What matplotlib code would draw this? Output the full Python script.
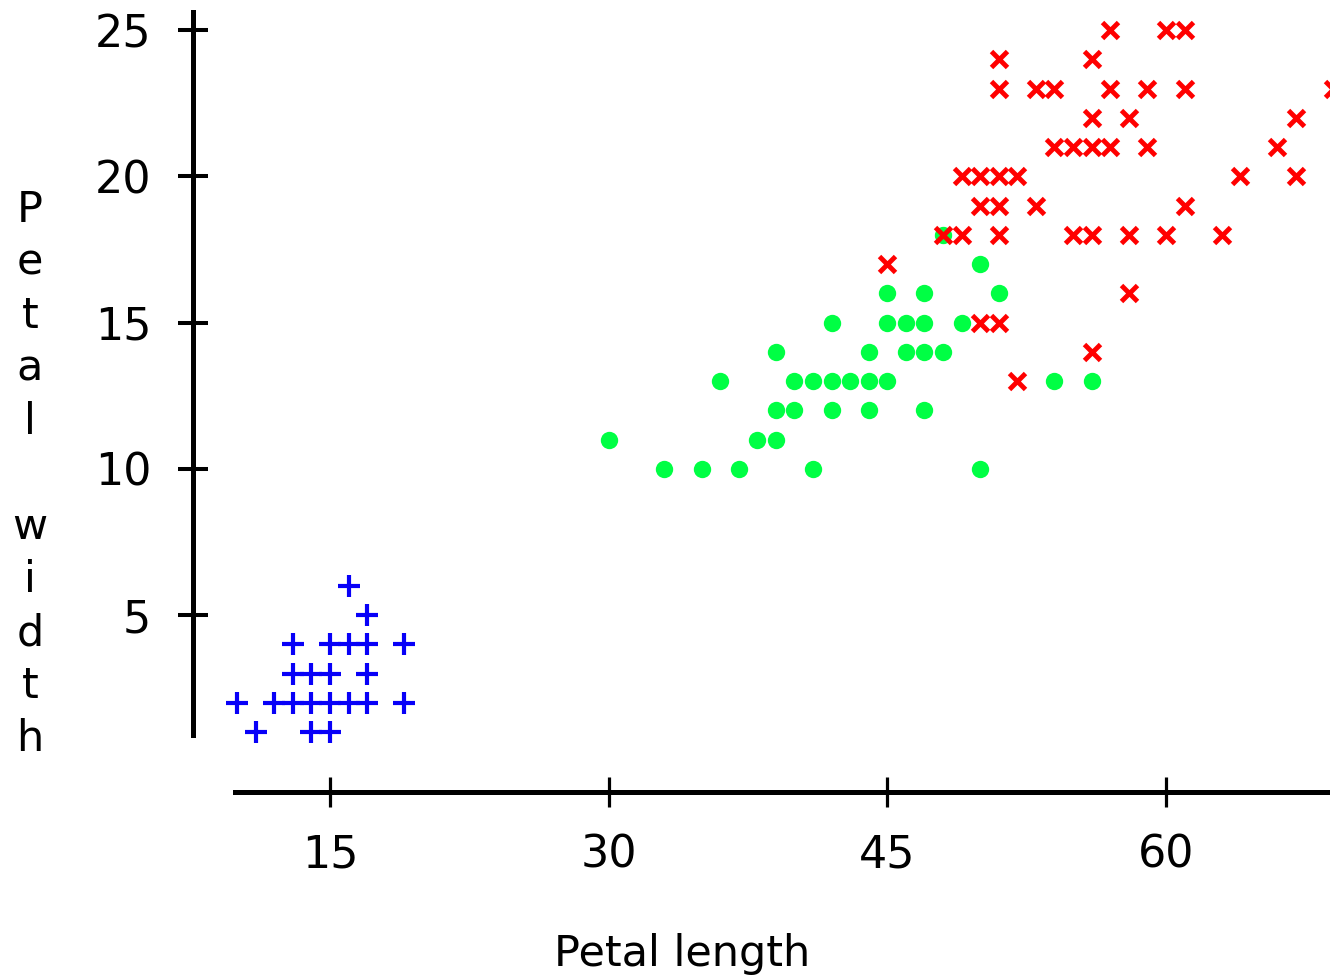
"""Iris petal length vs petal width (mm), three species, old-style bitmap plot."""

import matplotlib

matplotlib.use("Agg")
import matplotlib.pyplot as plt  # noqa: E402

BLUE, GREEN, RED = "#0800f8", "#00ff44", "#ff0000"

# setosa (blue +)
SET_LEN = [16, 17, 13, 15, 16, 17, 19, 13, 14, 15, 17, 10, 12, 13, 14, 15, 16, 17, 19,
           11, 14, 15]
SET_WID = [6, 5, 4, 4, 4, 4, 4, 3, 3, 3, 3, 2, 2, 2, 2, 2, 2, 2, 2,
           1, 1, 1]

# versicolor (green dots)
VER_LEN = [30, 33, 35, 36, 37, 38, 39, 39, 39, 40, 40, 41, 41, 42, 42, 42, 43, 44, 44,
           44, 45, 45, 45, 46, 46, 47, 47, 47, 47, 48, 48, 49, 50, 50, 51, 54, 56]
VER_WID = [11, 10, 10, 13, 10, 11, 11, 12, 14, 12, 13, 10, 13, 12, 13, 15, 13, 12, 13,
           14, 13, 15, 16, 14, 15, 12, 14, 15, 16, 14, 18, 15, 10, 17, 16, 13, 13]

# virginica (red x)
VIR_LEN = [45, 48, 49, 51, 55, 56, 58, 60, 63, 50, 51, 56, 52, 58,
           49, 50, 51, 52, 64, 67, 50, 51, 53, 61,
           54, 55, 56, 57, 59, 66, 56, 58, 67,
           51, 53, 54, 57, 59, 61, 69, 51, 56, 57, 60, 61]
VIR_WID = [17, 18, 18, 18, 18, 18, 18, 18, 18, 15, 15, 14, 13, 16,
           20, 20, 20, 20, 20, 20, 19, 19, 19, 19,
           21, 21, 21, 21, 21, 21, 22, 22, 22,
           23, 23, 23, 23, 23, 23, 23, 24, 24, 25, 25, 25]

X_TICKS = [15, 30, 45, 60]
Y_TICKS = [5, 10, 15, 20, 25]

fig = plt.figure(figsize=(13.3, 9.77), dpi=100)
ax = fig.add_axes([0, 0, 1, 1])
ax.set_xlim(-2.763, 68.83)
ax.set_ylim(-7.376, 26.026)

ax.plot(SET_LEN, SET_WID, ls="none", marker="+", ms=16, mew=3.0, color=BLUE,
        zorder=3, clip_on=False)
ax.plot(VER_LEN, VER_WID, ls="none", marker="o", ms=12.5, mew=0, color=GREEN,
        zorder=4, clip_on=False)
ax.plot(VIR_LEN, VIR_WID, ls="none", marker="x", ms=11, mew=3.5, color=RED,
        zorder=5, clip_on=False)

for s in ("top", "right"):
    ax.spines[s].set_visible(False)
ax.spines["left"].set_position(("data", 7.626))
ax.spines["left"].set_bounds(0.9, 25.6)
ax.spines["bottom"].set_position(("data", -1.05))
ax.spines["bottom"].set_bounds(9.89, 70)
for s in ("left", "bottom"):
    ax.spines[s].set_linewidth(3.6)

ax.set_xticks(X_TICKS)
ax.set_yticks(Y_TICKS)
ax.tick_params(axis="y", direction="inout", length=22, width=2.9, pad=19,
               labelsize=32)
ax.tick_params(axis="x", direction="inout", length=22, width=2.3, pad=19,
               labelsize=32)

fig.text(0.5128, 0.0113, "Petal length", ha="center", va="baseline", fontsize=31)
fig.text(0.0226, 0.5143, "\n".join("Petal width"), ha="center", va="center",
         fontsize=31, linespacing=1.33)

fig.savefig("out.png", dpi=100)
